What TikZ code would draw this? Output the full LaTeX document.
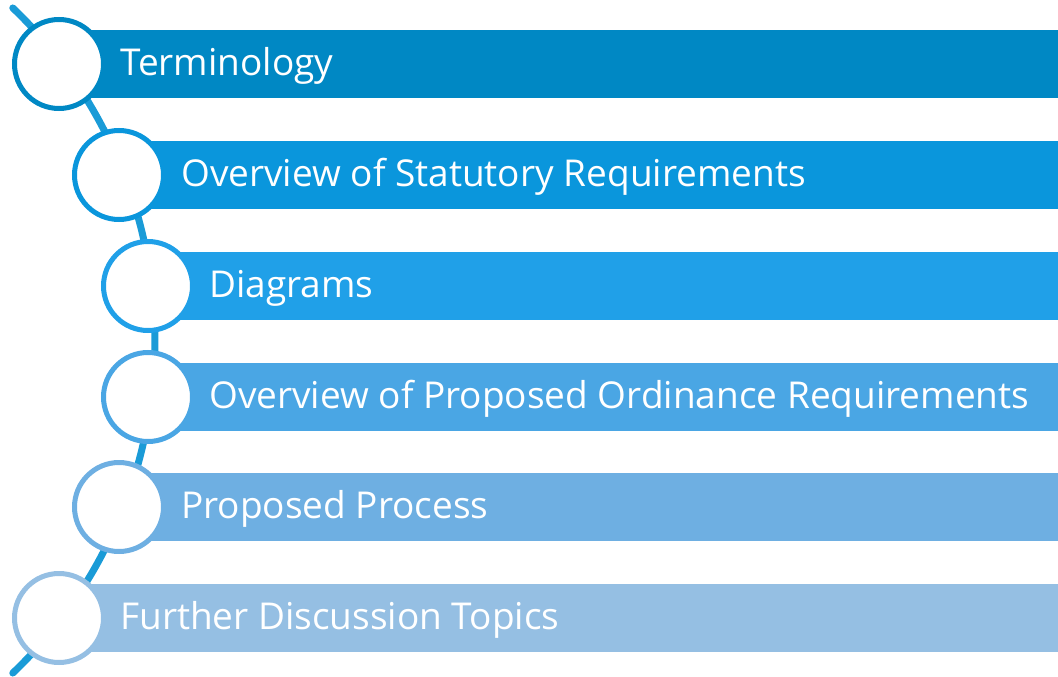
\documentclass[tikz,border=0pt]{standalone}
\usepackage{fontspec}
\setmainfont{Open Sans}
\definecolor{c1}{HTML}{0088C4}
\definecolor{c2}{HTML}{0A96DC}
\definecolor{c3}{HTML}{20A0E8}
\definecolor{c4}{HTML}{4AA6E4}
\definecolor{c5}{HTML}{6EAFE2}
\definecolor{c6}{HTML}{95BFE3}
\definecolor{arcc}{HTML}{1A9BD7}
\begin{document}
\begin{tikzpicture}[x=1pt,y=-1pt,
  bar/.style={fill=#1,draw=none},
  ring/.style={circle,draw=#1,fill=white,line width=5pt,minimum size=89pt,inner sep=0pt},
  lbl/.style={anchor=base west,text=white,font=\fontsize{37}{42}\selectfont,inner sep=0pt}]
\useasboundingbox (0,0) rectangle (1058,677);
% connecting arc
\coordinate (arcC) at (-305,340.5);
\draw[arcc,line width=7pt,line cap=round] ([shift={(-46.3:460)}]arcC) arc[start angle=-46.3,end angle=46.3,radius=460];
% bars
\foreach \i/\x/\y/\c in {1/58/64/c1,2/119/175/c2,3/150/286/c3,4/150/397/c4,5/119/507/c5,6/58/618/c6}{
  \fill[bar=\c] (\x,\y-34) rectangle (1058,\y+34);
}
\node[lbl] (t1) at (120,75) {Terminology};
\node[lbl] (t2) at (181,186) {Overview of Statutory Requirements};
\node[lbl] (t3) at (209,297) {Diagrams};
\node[lbl] (t4) at (209,408) {Overview of Proposed Ordinance Requirements};
\node[lbl] (t5) at (181,518) {Proposed Process};
\node[lbl] (t6) at (120,629) {Further Discussion Topics};
\node[ring=c1] (r1) at (59,64) {};
\node[ring=c2] (r2) at (119,175) {};
\node[ring=c3] (r3) at (148,286) {};
\node[ring=c4] (r4) at (148,397) {};
\node[ring=c5] (r5) at (119,507) {};
\node[ring=c6] (r6) at (59,618) {};
\end{tikzpicture}
\end{document}
